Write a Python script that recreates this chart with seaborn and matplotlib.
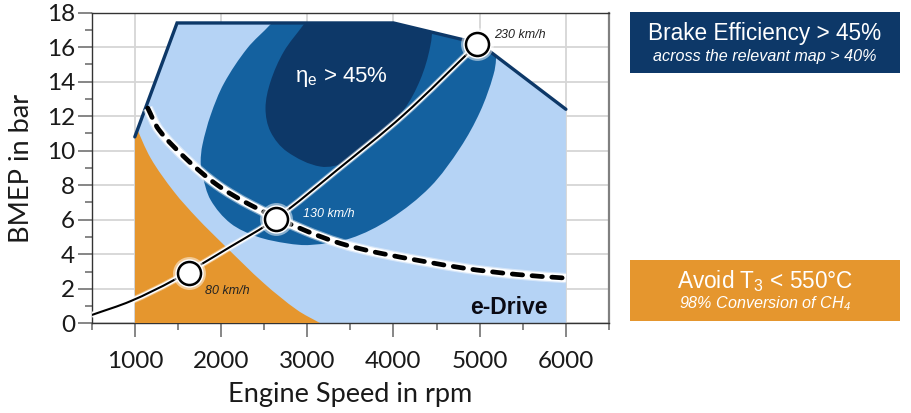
import matplotlib
matplotlib.use('Agg')
import matplotlib.pyplot as plt
from matplotlib.patches import PathPatch, Polygon, Rectangle
from matplotlib.path import Path
from matplotlib.ticker import AutoMinorLocator, MultipleLocator
import numpy as np
import seaborn as sns

full_load_rpm = [1000, 1490, 4000, 5000, 6000]
full_load_bmep = [10.8, 17.4, 17.4, 16.2, 12.4]

mid_rpm = [2850, 2574, 2304, 2034, 1880, 1784, 1764, 1784, 1880, 2111, 2420, 2767, 3037,
           3500, 3963, 4426, 4773, 5005, 5159, 5190, 5150, 4900]
mid_bmep = [18.9, 17.32, 15.93, 13.9, 12.07, 10.33, 9.36, 8.59, 7.14, 5.79, 5.02, 4.63, 4.54,
            4.92, 6.05, 7.9, 10.16, 12.26, 14.38, 15.5, 17.0, 19.0]

dark_rpm = [3200, 2960, 2728, 2574, 2516, 2574, 2767, 3153, 3461, 3731, 4117, 4310, 4426, 4440, 4300]
dark_bmep = [19.0, 17.32, 15.74, 14.0, 12.46, 11.1, 9.94, 9.08, 9.36, 10.33, 12.36, 14.1, 16.03, 17.4, 19.0]

orange_rpm = [1000, 1185, 1455, 1726, 2034, 2497, 2883, 3153]
orange_bmep = [11.55, 9.56, 7.62, 6.08, 4.54, 2.32, 0.77, 0.0]

road_rpm = [500, 954, 1455, 2111, 2632, 3346, 4117, 4970]
road_bmep = [0.48, 1.29, 2.51, 4.44, 6.04, 8.88, 12.07, 16.16]

limit_rpm = [1150, 1281, 1610, 1957, 2343, 2960, 3384, 3847, 4810, 5430, 6000]
limit_bmep = [12.47, 11.2, 9.46, 8.01, 6.85, 5.41, 4.63, 4.06, 3.2, 2.83, 2.62]

point_rpm = [1625, 2632, 4970]
point_bmep = [2.93, 6.04, 16.16]

LIGHT = '#b5d3f5'
MID = '#14619f'
DARK = '#0d3868'
ORANGE = '#e5962e'


def curve_path(xs, ys, closed=False):
    # Bezier durch die Stuetzpunkte, Griffe nach Sehnenlaenge in Pixeln
    scale = np.array([0.0864, 17.26])
    p = np.column_stack([xs, ys]).astype(float) * scale
    n = len(p)
    tang = np.zeros_like(p)
    for i in range(n):
        if closed:
            d = p[(i + 1) % n] - p[(i - 1) % n]
        else:
            d = p[min(i + 1, n - 1)] - p[max(i - 1, 0)]
        tang[i] = d / np.hypot(*d)
    verts = [p[0]]
    codes = [Path.MOVETO]
    for i in range(n if closed else n - 1):
        j = (i + 1) % n
        chord = np.hypot(*(p[j] - p[i]))
        verts += [p[i] + tang[i] * chord / 3, p[j] - tang[j] * chord / 3, p[j]]
        codes += [Path.CURVE4] * 3
    return [v / scale for v in verts], codes


sns.set_theme(style='white')
plt.rcParams['font.family'] = ['Lato', 'DejaVu Sans']
plt.rcParams['mathtext.fontset'] = 'custom'
plt.rcParams['mathtext.rm'] = 'Liberation Sans'
plt.rcParams['mathtext.it'] = 'Liberation Sans:italic'
plt.rcParams['mathtext.default'] = 'regular'

fig = plt.figure(figsize=(9.11, 4.13), dpi=100)
ax = fig.add_axes([91.7 / 911, (413 - 323.3) / 413, 517.3 / 911, 310.7 / 413])
ax.set_xlim(500, 6500)
ax.set_ylim(0, 18)

# Kennfeld
envelope = list(zip(full_load_rpm, full_load_bmep)) + [(6000, 0), (1000, 0)]
ax.add_patch(Polygon(envelope, closed=True, facecolor=LIGHT, edgecolor='none', zorder=2))

for xs, ys, col in [(mid_rpm, mid_bmep, MID), (dark_rpm, dark_bmep, DARK)]:
    verts, codes = curve_path(xs, ys, closed=True)
    patch = ax.add_patch(PathPatch(Path(verts, codes), facecolor=col, edgecolor='none', zorder=3))
    patch.set_clip_path(Polygon(envelope, closed=True, transform=ax.transData))

verts, codes = curve_path(orange_rpm, orange_bmep)
verts += [(1000, 0), (1000, 0)]
codes += [Path.LINETO, Path.CLOSEPOLY]
patch = ax.add_patch(PathPatch(Path(verts, codes), facecolor=ORANGE, edgecolor='none', zorder=4))
patch.set_clip_path(Polygon(envelope, closed=True, transform=ax.transData))

# Volllast
sns.lineplot(x=full_load_rpm, y=full_load_bmep, color=DARK, linewidth=2.4, sort=False,
             estimator=None, solid_joinstyle='miter', zorder=5, ax=ax)

# Grenzkurve gestrichelt mit weissem Rand
verts, codes = curve_path(limit_rpm, limit_bmep)
limit_path = Path(verts, codes)
for lw, alpha in [(7.5, 0.45), (5.8, 1.0)]:
    ax.add_patch(PathPatch(limit_path, facecolor='none', edgecolor='white', linewidth=lw,
                           alpha=alpha, zorder=6))
ax.add_patch(PathPatch(limit_path, facecolor='none', edgecolor='black', linewidth=3.4,
                       linestyle=(0, (2.2, 2.0)), capstyle='round', zorder=7))

# Fahrwiderstand
verts, codes = curve_path(road_rpm, road_bmep)
road_path = Path(verts, codes)
for lw, alpha in [(5, 0.45), (3.6, 1.0)]:
    ax.add_patch(PathPatch(road_path, facecolor='none', edgecolor='white', linewidth=lw,
                           alpha=alpha, zorder=8))
ax.add_patch(PathPatch(road_path, facecolor='none', edgecolor='black', linewidth=1.5, zorder=9))

# Betriebspunkte mit weissem Hof
sns.scatterplot(x=point_rpm, y=point_bmep, s=560, color='white', alpha=0.5, linewidth=0,
                zorder=10, ax=ax)
sns.scatterplot(x=point_rpm, y=point_bmep, s=420, color='white', linewidth=0, zorder=11, ax=ax)
sns.scatterplot(x=point_rpm, y=point_bmep, s=275, color='white', edgecolor='black',
                linewidth=1.8, zorder=12, ax=ax)

# Beschriftung im Diagramm
arial = 'Liberation Sans'
ax.text(2076, 1.87, '80 km/h', family=arial, style='italic', fontsize=9, color='#222222',
        ha='center', va='center', zorder=13)
ax.text(3245, 6.33, '130 km/h', family=arial, style='italic', fontsize=9, color='white',
        ha='center', va='center', zorder=13)
ax.text(5468, 16.7, '230 km/h', family=arial, style='italic', fontsize=9, color='#222222',
        ha='center', va='center', zorder=13)
ax.text(5340, 0.94, 'e-Drive', family=arial, weight='bold', fontsize=16.5, color='#0a0a14',
        ha='center', va='center', zorder=13)
ax.text(3396, 14.27, r'$\eta_e$ > 45%', family=arial, fontsize=16, color='white',
        ha='center', va='center', zorder=13)

# Achsen
ax.xaxis.set_major_locator(MultipleLocator(1000))
ax.yaxis.set_major_locator(MultipleLocator(2))
ax.xaxis.set_minor_locator(AutoMinorLocator(2))
ax.yaxis.set_minor_locator(AutoMinorLocator(2))
ax.set_xticks([1000, 2000, 3000, 4000, 5000, 6000])
ax.grid(True, which='major', color='#d6d6d6', linewidth=1.3, zorder=1)
ax.set_axisbelow(True)
ax.tick_params(which='major', length=10, width=1.1, color='#666666', labelsize=17.5,
               labelcolor='#1a1a1a', left=True, bottom=True, pad=2)
ax.tick_params(axis='x', which='major', pad=10)
ax.tick_params(which='minor', length=5, width=1.1, color='#666666', left=True, bottom=True)
ax.set_xlabel('Engine Speed in rpm', fontsize=19.5, color='#1a1a1a', labelpad=7)
ax.set_ylabel('BMEP in bar', fontsize=19.5, color='#1a1a1a', labelpad=9)
for side in ['left', 'top', 'bottom']:
    ax.spines[side].set_color('#333333')
    ax.spines[side].set_linewidth(1.0)
ax.spines['right'].set_color('#808080')
ax.spines['right'].set_linewidth(1.6)


# Kaesten rechts
def box(y_top, y_bottom, color, title, sub):
    fig.add_artist(Rectangle((630 / 911, 1 - y_bottom / 413), 270 / 911, (y_bottom - y_top) / 413,
                             transform=fig.transFigure, facecolor=color, edgecolor='none'))
    fig.text(765 / 911, 1 - (y_top + 21.5) / 413, title, family=arial, fontsize=16.3,
             color='white', ha='center', va='center')
    fig.text(765 / 911, 1 - (y_top + 44) / 413, sub, family=arial, style='italic', fontsize=11.6,
             color='white', ha='center', va='center')


box(12, 73, DARK, 'Brake Efficiency > 45%', 'across the relevant map > 40%')
box(260, 321, ORANGE, r'Avoid T$_3$ < 550°C', r'98% Conversion of CH$_4$')

fig.savefig('out.png', dpi=100)
